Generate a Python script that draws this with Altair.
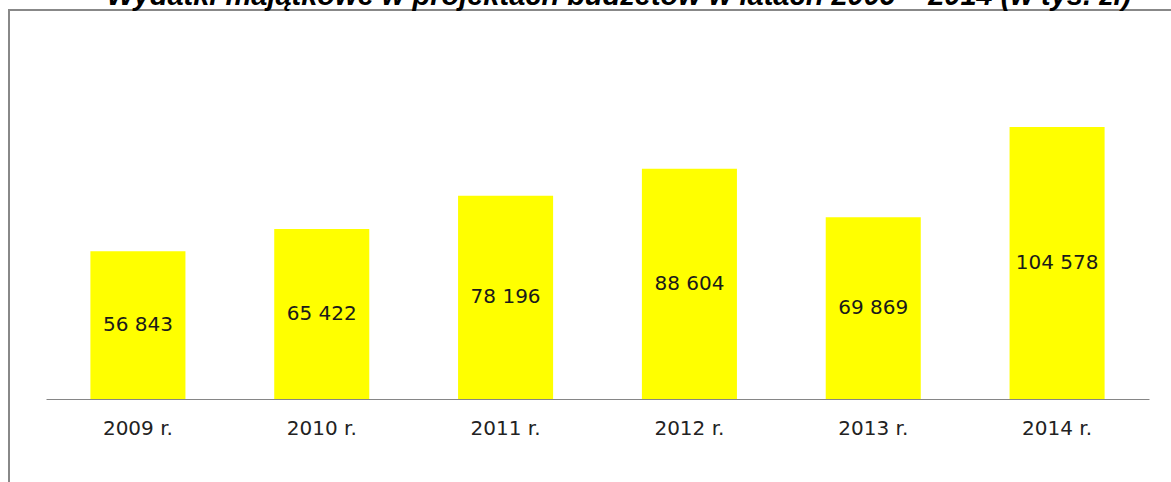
import altair as alt
import pandas as pd

years = ["2009 r.", "2010 r.", "2011 r.", "2012 r.", "2013 r.", "2014 r."]
values = [56843, 65422, 78196, 88604, 69869, 104578]
title_text = "Wydatki majątkowe w projektach budżetów w latach 2009 – 2014 (w tys. zł)"

df = pd.DataFrame({
    "year": years,
    "value": values,
    "label": [f"{v:,}".replace(",", " ") for v in values],
})

W, H = 1103, 312
PL, PT = 46, 87

x = alt.X("year:N", sort=years, title=None,
          scale=alt.Scale(paddingInner=0.483, paddingOuter=0.2415),
          axis=alt.Axis(labelAngle=0, ticks=False, domainColor="#868686", domainWidth=1,
                        labelFont="DejaVu Sans", labelFontSize=20, labelColor="#222222",
                        labelPadding=19))
y = alt.Y("value:Q", scale=alt.Scale(domain=[0, 120000]), axis=None)

base = alt.Chart(df)
bars = base.mark_bar(color="#ffff00").encode(x=x, y=y)
labels = base.transform_calculate(mid="datum.value/2").mark_text(
    font="DejaVu Sans", fontSize=20, color="#1a1a1a", baseline="middle"
).encode(x=x, y=alt.Y("mid:Q", scale=alt.Scale(domain=[0, 120000]), axis=None), text="label:N")

border_left = alt.Chart(df).mark_rule(color="#888888", strokeWidth=2).encode(
    x=alt.value(9 - PL), y=alt.value(10 - PT), y2=alt.value(600))
border_top = alt.Chart(df).mark_rule(color="#888888", strokeWidth=2).encode(
    x=alt.value(8 - PL), x2=alt.value(1300), y=alt.value(10 - PT))
title = alt.Chart(pd.DataFrame({"t": [title_text]})).mark_text(
    font="Liberation Sans", fontSize=29, fontWeight="bold", fontStyle="italic",
    color="#000000", baseline="alphabetic", align="center"
).encode(x=alt.value(619 - PL), y=alt.value(5 - PT), text="t:N")

chart = alt.layer(bars, labels, border_left, border_top, title).properties(
    width=W, height=H,
    background="white",
    autosize=alt.AutoSizeParams(type="none"),
    padding={"left": PL, "top": PT, "right": 1171 - PL - W, "bottom": 482 - PT - H},
).configure_view(strokeWidth=0, stroke="transparent")

chart.save("out.html", embed_options={"renderer": "svg", "actions": False})
